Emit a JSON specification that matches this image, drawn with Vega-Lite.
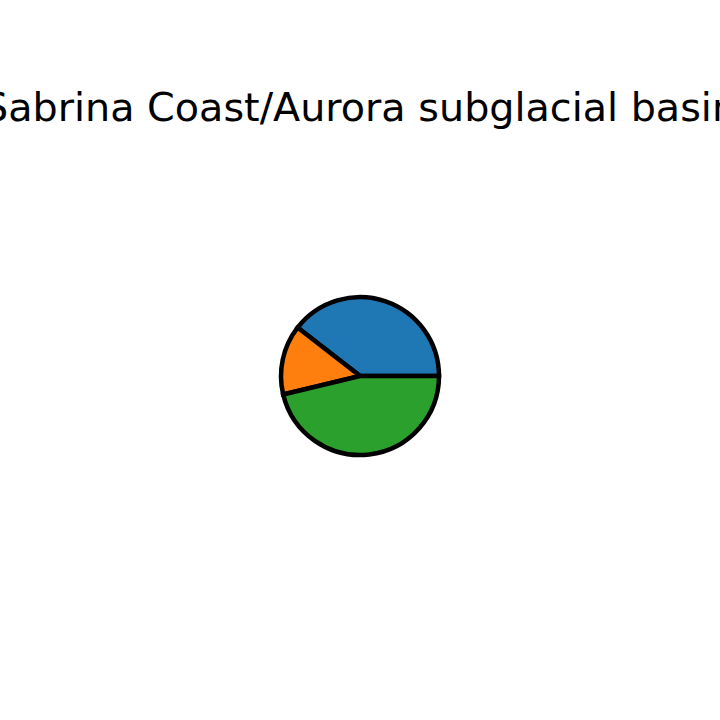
{
  "$schema": "https://vega.github.io/schema/vega-lite/v6.json",
  "autosize": "none",
  "width": 720,
  "height": 392,
  "padding": {"top": 180, "left": 0, "right": 0, "bottom": 0},
  "background": "white",
  "title": {
    "text": "Sabrina Coast/Aurora subglacial basin",
    "font": "DejaVu Sans",
    "fontSize": 39.7,
    "fontWeight": "normal",
    "color": "black",
    "anchor": "middle",
    "frame": "group",
    "baseline": "alphabetic",
    "offset": 19
  },
  "view": {"stroke": null},
  "data": {
    "values": [
      {"category": "A", "order": 1, "value": 39.5},
      {"category": "B", "order": 2, "value": 14.25},
      {"category": "C", "order": 3, "value": 46.25}
    ]
  },
  "mark": {"type": "arc", "outerRadius": 79, "stroke": "black", "strokeWidth": 4.5, "strokeJoin": "miter"},
  "encoding": {
    "theta": {
      "field": "value",
      "type": "quantitative",
      "stack": true,
      "scale": {"domain": [0, 100], "range": [1.5707963, -4.712389], "nice": false}
    },
    "order": {"field": "order", "type": "quantitative"},
    "color": {
      "field": "category",
      "type": "nominal",
      "scale": {"domain": ["A", "B", "C"], "range": ["#1f77b4", "#ff7f0e", "#2ca02c"]},
      "legend": null
    }
  }
}
